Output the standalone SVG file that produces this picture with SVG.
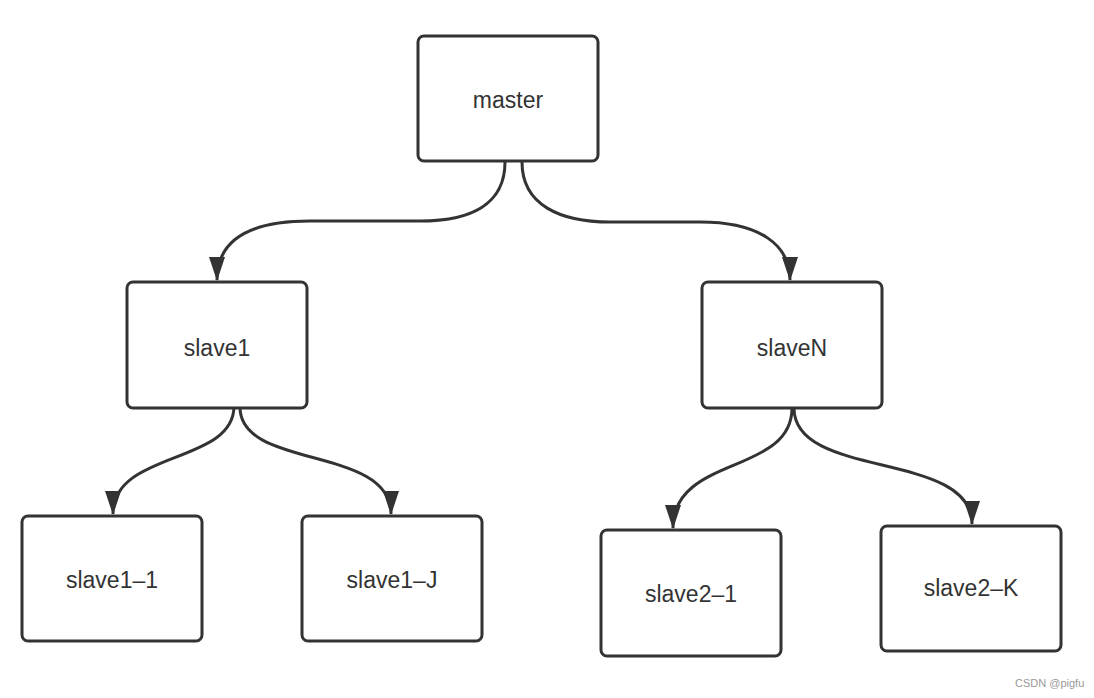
<svg xmlns="http://www.w3.org/2000/svg" width="1094" height="698" viewBox="0 0 1094 698">
<style>
.box{fill:#fff;stroke:#333;stroke-width:3}
.lbl{font-family:"Liberation Sans",Arial,sans-serif;font-size:23px;fill:#333;text-anchor:middle}
.edge{fill:none;stroke:#333;stroke-width:3}
.wm{font-family:"Liberation Sans",Arial,sans-serif;font-size:11px;fill:#999}
</style>
<defs>
<marker id="arr" markerUnits="userSpaceOnUse" viewBox="0 0 24 16" markerWidth="24" markerHeight="16" refX="23" refY="8" orient="auto">
<path d="M0,0 L24,8 L0,16 z" fill="#333"/>
</marker>
</defs>
<rect width="1094" height="698" fill="#fff"/>
<g id="connectors">
<path class="edge" marker-end="url(#arr)" d="M505,162 C505,205 470,221 420,221 L310,221 C250,221 217,240 217,280"/>
<path class="edge" marker-end="url(#arr)" d="M522,162 C522,205 560,222 610,222 L700,222 C760,222 790,245 790,280"/>
<path class="edge" marker-end="url(#arr)" d="M234,406 C234,465 113,450 113,514"/>
<path class="edge" marker-end="url(#arr)" d="M240,407 C240,470 391,445 391,514"/>
<path class="edge" marker-end="url(#arr)" d="M792,408 C792,475 673,455 673,528"/>
<path class="edge" marker-end="url(#arr)" d="M794,408 C794,480 972,450 972,524"/>
</g>
<g id="master"><rect class="box" x="418" y="36" width="180" height="125" rx="6"/><text class="lbl" x="508" y="108">master</text></g>
<g id="slave1"><rect class="box" x="127" y="282" width="180" height="126" rx="6"/><text class="lbl" x="217" y="356">slave1</text></g>
<g id="slaveN"><rect class="box" x="702" y="282" width="180" height="126" rx="6"/><text class="lbl" x="792" y="356">slaveN</text></g>
<g id="slave1-1"><rect class="box" x="22" y="516" width="180" height="125" rx="6"/><text class="lbl" x="112" y="588">slave1–1</text></g>
<g id="slave1-J"><rect class="box" x="302" y="516" width="180" height="125" rx="6"/><text class="lbl" x="392" y="588">slave1–J</text></g>
<g id="slave2-1"><rect class="box" x="601" y="530" width="180" height="126" rx="6"/><text class="lbl" x="691" y="602">slave2–1</text></g>
<g id="slave2-K"><rect class="box" x="881" y="526" width="180" height="125" rx="6"/><text class="lbl" x="971" y="596">slave2–K</text></g>
<text class="wm" x="1015" y="687">CSDN @pigfu</text>
</svg>
